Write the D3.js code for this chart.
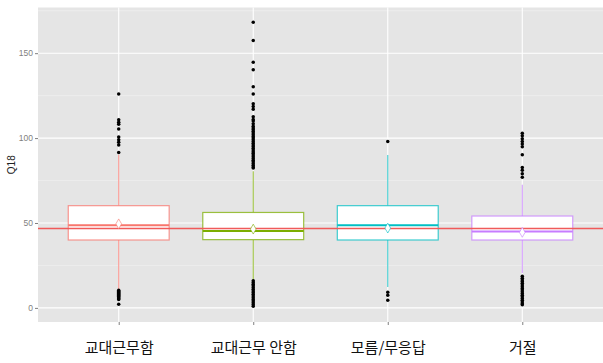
<!DOCTYPE html>
<html>
<head>
<meta charset="utf-8">
<script src="https://cdn.jsdelivr.net/npm/d3@7"></script>
<style>
  html, body { margin: 0; padding: 0; background: #ffffff; }
  svg { display: block; }
</style>
</head>
<body>
<svg id="chart" width="603" height="363"></svg>
<script>
// Q18 by shift-work group
const categories = ["교대근무함", "교대근무 안함", "모름/무응답", "거절"];
const colors = ["#F8766D", "#7CAE00", "#00BFC4", "#C77CFF"];
const q1 = [40, 40.2, 40, 40];
const medians = [48.6, 45.3, 48.6, 45];
const q3 = [60.2, 56.2, 60.2, 54.1];
const whiskerLow = [11, 16.5, 12.3, 20.5];
const whiskerHigh = [90.2, 80.4, 90, 72.5];
const means = [49.5, 46.4, 47, 44.5];
const referenceLine = 46.8;
const yTicks = [0, 50, 100, 150];
const yMinorTicks = [25, 75, 125, 175];

const outliers = [
  [125.9, 110.8, 109.4, 108.2, 105.3, 100.6, 99, 97.6, 96, 91.5,
   10.4, 9.8, 9.2, 8.6, 8, 7.4, 6.8, 6.2, 5.6, 5, 2.2],
  [168.2, 157.4, 144.7, 140.2, 130.2, 126, 120.2, 118.6, 117,
   112.6, 111, 110, 108.5, 107, 106, 105, 104, 103, 102, 101, 100, 99, 98, 97, 96, 95,
   94, 93, 92, 91, 90, 89, 88, 87, 86, 85, 84, 83, 82.4,
   16, 15, 14, 13, 12, 11, 10, 9, 8, 7, 6, 5, 4, 3, 2, 1],
  [98, 9.2, 7.4, 4.5],
  [102.9, 101.4, 99.6, 98, 96.5, 94.9, 90.2, 82.7, 81, 79, 77,
   18.6, 17.5, 16.5, 15.5, 14.5, 13.5, 12.5, 11.5, 10.5, 9.5, 8.5, 7.5, 6.5, 5.5, 4.5, 3.5, 2.5, 1.8]
];

const panel = { left: 38, right: 603, top: 7.5, bottom: 322 };

const svg = d3.select("#chart");

const x = d3.scalePoint()
  .domain(categories)
  .range([panel.left, panel.right])
  .padding(0.6);

const y = d3.scaleLinear()
  .domain([-8.3, 176.9])
  .range([panel.bottom, panel.top]);

const boxW = x.step() * 0.75;

// panel background
svg.append("rect")
  .attr("x", panel.left).attr("y", panel.top)
  .attr("width", panel.right - panel.left)
  .attr("height", panel.bottom - panel.top)
  .attr("fill", "#E5E5E5");

// grid
const grid = svg.append("g");
grid.selectAll("line.minor")
  .data(yMinorTicks.filter(v => y(v) >= panel.top))
  .join("line")
  .attr("x1", panel.left).attr("x2", panel.right)
  .attr("y1", d => y(d)).attr("y2", d => y(d))
  .attr("stroke", "#F2F2F2").attr("stroke-width", 0.6);
grid.selectAll("line.major")
  .data(yTicks)
  .join("line")
  .attr("x1", panel.left).attr("x2", panel.right)
  .attr("y1", d => y(d)).attr("y2", d => y(d))
  .attr("stroke", "#FFFFFF").attr("stroke-width", 1.1);
grid.selectAll("line.vert")
  .data(categories)
  .join("line")
  .attr("x1", d => x(d)).attr("x2", d => x(d))
  .attr("y1", panel.top).attr("y2", panel.bottom)
  .attr("stroke", "#FFFFFF").attr("stroke-width", 1.1);

// boxplots
const boxes = svg.append("g")
  .selectAll("g")
  .data(categories.map((c, i) => ({ c, i })))
  .join("g");

boxes.append("line")
  .attr("x1", d => x(d.c)).attr("x2", d => x(d.c))
  .attr("y1", d => y(whiskerHigh[d.i])).attr("y2", d => y(q3[d.i]))
  .attr("stroke", d => colors[d.i]).attr("stroke-opacity", 0.75).attr("stroke-width", 1.1);
boxes.append("line")
  .attr("x1", d => x(d.c)).attr("x2", d => x(d.c))
  .attr("y1", d => y(q1[d.i])).attr("y2", d => y(whiskerLow[d.i]))
  .attr("stroke", d => colors[d.i]).attr("stroke-opacity", 0.75).attr("stroke-width", 1.1);
boxes.append("rect")
  .attr("x", d => x(d.c) - boxW / 2)
  .attr("width", boxW)
  .attr("y", d => y(q3[d.i]))
  .attr("height", d => y(q1[d.i]) - y(q3[d.i]))
  .attr("fill", "#FFFFFF")
  .attr("stroke", d => colors[d.i]).attr("stroke-opacity", 0.75).attr("stroke-width", 1.2);
boxes.append("line")
  .attr("x1", d => x(d.c) - boxW / 2).attr("x2", d => x(d.c) + boxW / 2)
  .attr("y1", d => y(medians[d.i])).attr("y2", d => y(medians[d.i]))
  .attr("stroke", d => colors[d.i]).attr("stroke-width", 2);

boxes.selectAll("circle")
  .data(d => outliers[d.i].map(v => ({ c: d.c, v })))
  .join("circle")
  .attr("cx", d => x(d.c))
  .attr("cy", d => y(d.v))
  .attr("r", 1.75)
  .attr("fill", "#000000");

// reference line
svg.append("line")
  .attr("x1", panel.left).attr("x2", panel.right)
  .attr("y1", y(referenceLine)).attr("y2", y(referenceLine))
  .attr("stroke", "#F05A5A").attr("stroke-width", 1.4);

// means as diamonds
const diamond = d3.symbol().type(d3.symbolDiamond).size(28);
svg.append("g")
  .selectAll("path")
  .data(categories.map((c, i) => ({ c, i })))
  .join("path")
  .attr("d", diamond)
  .attr("transform", d => `translate(${x(d.c)},${y(means[d.i])})`)
  .attr("fill", "#FFFFFF")
  .attr("stroke", d => colors[d.i]).attr("stroke-opacity", 0.6).attr("stroke-width", 1);

// y axis
const yAxis = svg.append("g")
  .attr("transform", `translate(${panel.left},0)`)
  .call(d3.axisLeft(y).tickValues(yTicks).tickSize(3).tickPadding(2).tickFormat(d3.format("d")));
yAxis.select(".domain").remove();
yAxis.selectAll(".tick line").attr("stroke", "#7F7F7F");
yAxis.selectAll(".tick text")
  .attr("fill", "#7F7F7F")
  .style("font-family", "Liberation Sans, Arial, sans-serif")
  .style("font-size", "8.5px");

// x axis
const xAxis = svg.append("g")
  .attr("transform", `translate(0,${panel.bottom})`)
  .call(d3.axisBottom(x).tickSize(3).tickPadding(17));
xAxis.select(".domain").remove();
xAxis.selectAll(".tick line").attr("stroke", "#7F7F7F");
xAxis.selectAll(".tick text")
  .attr("fill", "#111111")
  .style("font-family", "'Noto Sans CJK KR', sans-serif")
  .style("font-size", "15px");

// y axis title
svg.append("text")
  .attr("transform", `translate(15,${(panel.top + panel.bottom) / 2}) rotate(-90)`)
  .attr("text-anchor", "middle")
  .style("font-family", "Liberation Sans, Arial, sans-serif")
  .style("font-size", "10px")
  .attr("fill", "#222222")
  .text("Q18");
</script>
</body>
</html>
